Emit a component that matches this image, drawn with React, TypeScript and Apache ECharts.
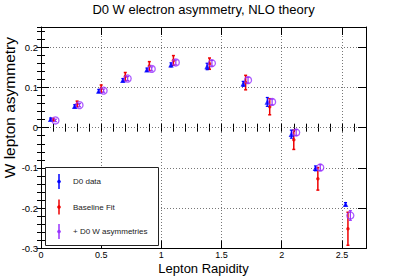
import React, { useEffect, useRef } from 'react';
import * as echarts from 'echarts';

// ---- data ----
const binCenters = [0.1, 0.3, 0.5, 0.7, 0.9, 1.1, 1.4, 1.7, 1.9, 2.1, 2.3, 2.55];
const d0Data = [0.021, 0.053, 0.091, 0.118, 0.144, 0.156, 0.152, 0.109, 0.064, -0.016, -0.101, -0.19];
const d0Err = [0.003, 0.004, 0.004, 0.004, 0.004, 0.005, 0.008, 0.006, 0.011, 0.01, 0.006, 0.004];
const baselineFit = [0.02, 0.059, 0.097, 0.127, 0.153, 0.167, 0.159, 0.112, 0.052, -0.03, -0.127, -0.251];
const baselineErr = [0.003, 0.007, 0.009, 0.01, 0.011, 0.012, 0.014, 0.018, 0.02, 0.024, 0.028, 0.041];
const withD0W = [0.018, 0.056, 0.092, 0.122, 0.146, 0.162, 0.16, 0.118, 0.064, -0.012, -0.099, -0.218];
const withD0WErr = [0.003, 0.004, 0.004, 0.005, 0.005, 0.006, 0.007, 0.007, 0.007, 0.007, 0.007, 0.012];
const xTickLabels = ['0', '0.5', '1', '1.5', '2', '2.5'];
const yTickLabels = ['-0.3', '-0.2', '-0.1', '0', '0.1', '0.2'];
const legendLabels = ['D0 data', 'Baseline Fit', '+ D0 W asymmetries'];
const chartTitle = 'D0 W electron asymmetry, NLO theory';
const xTitle = 'Lepton Rapidity';
const yTitle = 'W lepton asymmetry';

const BLUE = '#0000ff';
const RED = '#ee0000';
const PURPLE = '#9933ff';
const FONT = '"Liberation Sans", Arial, Helvetica, sans-serif';

const X_OFF = 0.02;

function labelFor(list: string[], v: number) {
  const f = list.find((l) => Math.abs(parseFloat(l) - v) < 1e-6);
  return f === undefined ? '' : f;
}

function errorBars(name: string, xs: number[], ys: number[], errs: number[], color: string, cap: number, lw: number, z: number) {
  return {
    type: 'custom',
    name,
    xAxisIndex: 0,
    yAxisIndex: 0,
    silent: true,
    z,
    data: xs.map((x, i) => [x, ys[i] - errs[i], ys[i] + errs[i]]),
    encode: { x: 0, y: [1, 2] },
    renderItem: (_p: any, api: any) => {
      const x = api.value(0);
      const lo = api.coord([x, api.value(1)]);
      const hi = api.coord([x, api.value(2)]);
      const h = cap / 2;
      const st = { stroke: color, lineWidth: lw };
      return {
        type: 'group',
        children: [
          { type: 'line', shape: { x1: lo[0], y1: lo[1], x2: hi[0], y2: hi[1] }, style: st },
          { type: 'line', shape: { x1: lo[0] - h, y1: lo[1], x2: lo[0] + h, y2: lo[1] }, style: st },
          { type: 'line', shape: { x1: hi[0] - h, y1: hi[1], x2: hi[0] + h, y2: hi[1] }, style: st },
        ],
      };
    },
  };
}

export default function App() {
  const ref = useRef<HTMLDivElement>(null);
  useEffect(() => {
    if (!ref.current) return;
    const chart = echarts.init(ref.current, undefined, { renderer: 'svg' });

    const blueX = binCenters.map((c) => c - X_OFF);
    const redX = binCenters.slice();
    const purpleX = binCenters.map((c) => c + X_OFF);

    const baseAxis = {
      min: 0,
      max: 2.7,
      type: 'value',
      axisLine: { show: true, onZero: false, lineStyle: { color: '#000', width: 1 } },
    };
    const baseY = {
      min: -0.3,
      max: 0.25,
      type: 'value',
      axisLine: { show: true, onZero: false, lineStyle: { color: '#000', width: 1 } },
    };

    const xAxes = [
      {
        ...baseAxis,
        position: 'bottom',
        interval: 0.5,
        axisTick: { show: true, inside: true, length: 8, lineStyle: { color: '#000' } },
        axisLabel: {
          show: true,
          fontSize: 9,
          color: '#000',
          fontFamily: FONT,
          margin: 2,
          formatter: (v: number) => labelFor(xTickLabels, v),
        },
        splitLine: { show: true, lineStyle: { color: '#777', type: [1, 2], width: 1 } },
      },
      {
        ...baseAxis,
        position: 'bottom',
        interval: 0.1,
        axisLine: { show: false },
        axisTick: { show: true, inside: true, length: 4, lineStyle: { color: '#000' } },
        axisLabel: { show: false },
        splitLine: { show: false },
      },
      {
        ...baseAxis,
        position: 'top',
        interval: 0.5,
        axisTick: { show: true, inside: true, length: 8, lineStyle: { color: '#000' } },
        axisLabel: { show: false },
        splitLine: { show: false },
      },
      {
        ...baseAxis,
        position: 'top',
        interval: 0.1,
        axisLine: { show: false },
        axisTick: { show: true, inside: true, length: 4, lineStyle: { color: '#000' } },
        axisLabel: { show: false },
        splitLine: { show: false },
      },
    ];

    const yAxes = [
      {
        ...baseY,
        position: 'left',
        interval: 0.1,
        axisTick: { show: true, inside: true, length: 8, lineStyle: { color: '#000' } },
        axisLabel: {
          show: true,
          fontSize: 9.5,
          color: '#000',
          fontFamily: FONT,
          margin: 3,
          formatter: (v: number) => labelFor(yTickLabels, v),
        },
        splitLine: { show: true, lineStyle: { color: '#777', type: [1, 2], width: 1 } },
      },
      {
        ...baseY,
        position: 'left',
        interval: 0.02,
        axisLine: { show: false },
        axisTick: { show: true, inside: true, length: 4, lineStyle: { color: '#000' } },
        axisLabel: { show: false },
        splitLine: { show: false },
      },
      {
        ...baseY,
        position: 'right',
        interval: 0.1,
        axisTick: { show: true, inside: true, length: 8, lineStyle: { color: '#000' } },
        axisLabel: { show: false },
        splitLine: { show: false },
      },
      {
        ...baseY,
        position: 'right',
        interval: 0.02,
        axisLine: { show: false },
        axisTick: { show: true, inside: true, length: 4, lineStyle: { color: '#000' } },
        axisLabel: { show: false },
        splitLine: { show: false },
      },
    ];

    const legendColors = [BLUE, RED, PURPLE];
    const legendYs = [181.5, 207, 231.5];
    const legendGraphics: any[] = [
      {
        type: 'rect',
        z: 100,
        shape: { x: 45.5, y: 167.5, width: 113, height: 78 },
        style: { fill: '#fff', stroke: '#222', lineWidth: 1 },
      },
    ];
    legendLabels.forEach((lab, i) => {
      const y = legendYs[i];
      legendGraphics.push(
        { type: 'line', z: 101, shape: { x1: 59, y1: y - 7.5, x2: 59, y2: y + 7.5 }, style: { stroke: legendColors[i], lineWidth: 2, opacity: 0.75 } },
        { type: 'circle', z: 102, shape: { cx: 59, cy: y, r: 1.8 }, style: { fill: legendColors[i] } },
        {
          type: 'text',
          z: 102,
          x: 73,
          y,
          style: { text: lab, fontSize: 8, fontFamily: FONT, fill: '#222', textVerticalAlign: 'middle', textAlign: 'left' },
        }
      );
    });

    chart.setOption({
      animation: false,
      backgroundColor: '#fff',
      title: {
        text: chartTitle,
        left: 'center',
        top: 3,
        padding: 0,
        textStyle: { fontSize: 13, fontWeight: 'normal', color: '#000', fontFamily: FONT },
      },
      grid: { left: 41, right: 41, top: 27, bottom: 27.5, containLabel: false },
      xAxis: xAxes,
      yAxis: yAxes,
      series: [
        errorBars('Baseline Fit err', redX, baselineFit, baselineErr, RED, 3, 1.5, 3),
        {
          type: 'scatter',
          name: 'Baseline Fit',
          xAxisIndex: 0,
          yAxisIndex: 0,
          z: 4,
          symbol: 'circle',
          symbolSize: 3.5,
          itemStyle: { color: RED },
          data: redX.map((x, i) => [x, baselineFit[i]]),
        },
        errorBars('D0 data err', blueX, d0Data, d0Err, BLUE, 3, 1.2, 5),
        {
          type: 'scatter',
          name: 'D0 data',
          xAxisIndex: 0,
          yAxisIndex: 0,
          z: 6,
          symbol: 'triangle',
          symbolSize: 5.5,
          itemStyle: { color: BLUE },
          data: blueX.map((x, i) => [x, d0Data[i]]),
        },
        errorBars('+ D0 W asymmetries err', purpleX, withD0W, withD0WErr, PURPLE, 3, 1.2, 7),
        {
          type: 'scatter',
          name: '+ D0 W asymmetries',
          xAxisIndex: 0,
          yAxisIndex: 0,
          z: 8,
          symbol: 'circle',
          symbolSize: 7,
          itemStyle: { color: 'rgba(0,0,0,0)', borderColor: PURPLE, borderWidth: 1.3 },
          data: purpleX.map((x, i) => [x, withD0W[i]]),
        },
      ],
      graphic: [
        ...legendGraphics,
        {
          type: 'text',
          z: 100,
          x: 203.5,
          y: 268,
          style: { text: xTitle, fontSize: 13, fontFamily: FONT, fill: '#000', textAlign: 'center', textVerticalAlign: 'middle' },
        },
        {
          type: 'text',
          z: 100,
          x: 9,
          y: 37,
          rotation: Math.PI / 2,
          style: { text: yTitle, fontSize: 15.5, fontFamily: FONT, fill: '#000', textAlign: 'right', textVerticalAlign: 'middle' },
        },
      ],
    });
    return () => chart.dispose();
  }, []);
  return <div ref={ref} style={{ position: 'fixed', left: 0, top: 0, width: 407, height: 276 }} />;
}
